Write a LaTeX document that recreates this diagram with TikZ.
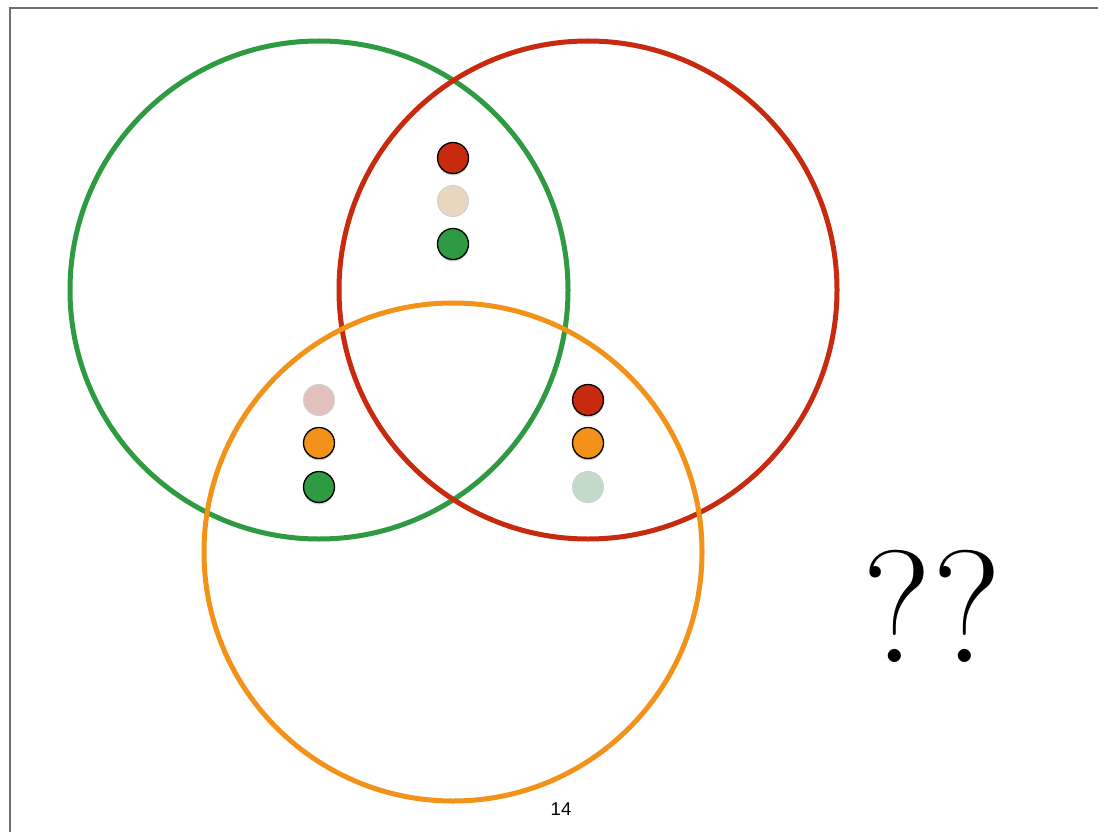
\documentclass[tikz,border=0pt]{standalone}
\usepackage{fontspec}
\newfontfamily\labelfont{Liberation Sans}
\definecolor{vgreen}{HTML}{2E9A42}
\definecolor{vred}{HTML}{C82A0F}
\definecolor{vorange}{HTML}{F29219}
\definecolor{fbeige}{HTML}{E8D6BF}
\definecolor{fpink}{HTML}{E2C0BB}
\definecolor{fgreen}{HTML}{C5DBCA}
\definecolor{framegray}{HTML}{6E6E6E}
\begin{document}
\begin{tikzpicture}[x=1pt,y=-1pt,
  setcircle/.style={circle,draw=#1,line width=5pt,minimum size=498pt,inner sep=0pt},
  soliddot/.style={circle,fill=#1,draw=black,line width=1.3pt,minimum size=31pt,inner sep=0pt,
    preaction={draw=none,fill=black,fill opacity=0.18,transform canvas={yshift=-2pt}}},
  fadeddot/.style={circle,fill=#1,draw=black!18,line width=1pt,minimum size=31pt,inner sep=0pt}]
\useasboundingbox (0,0) rectangle (1098,832);
\fill[white] (0,0) rectangle (1098,832);
\draw[framegray,line width=2.2pt] (10,832) coordinate (fb) -- (10,8) coordinate (fc) -- (1098,8) coordinate (fd);
\node[setcircle=vgreen] (G) at (319,290) {};
\node[setcircle=vred] (R) at (588,290) {};
\node[setcircle=vorange] (O) at (453,552) {};
% top group
\node[soliddot=vred] (t1) at (453,158) {};
\node[fadeddot=fbeige] (t2) at (453,201) {};
\node[soliddot=vgreen] (t3) at (453,244) {};
% left group
\node[fadeddot=fpink] (l1) at (319,400) {};
\node[soliddot=vorange] (l2) at (319,443) {};
\node[soliddot=vgreen] (l3) at (319,487) {};
% right group
\node[soliddot=vred] (r1) at (588,400) {};
\node[soliddot=vorange] (r2) at (588,443) {};
\node[fadeddot=fgreen] (r3) at (588,487) {};
\node[inner sep=0pt,anchor=base] (q) at (932,662) {\fontsize{160}{160}\selectfont ??};
\node[inner sep=0pt,anchor=base] (pg) at (561,815) {\labelfont\fontsize{18.5}{18.5}\selectfont 14};
\end{tikzpicture}
\end{document}
